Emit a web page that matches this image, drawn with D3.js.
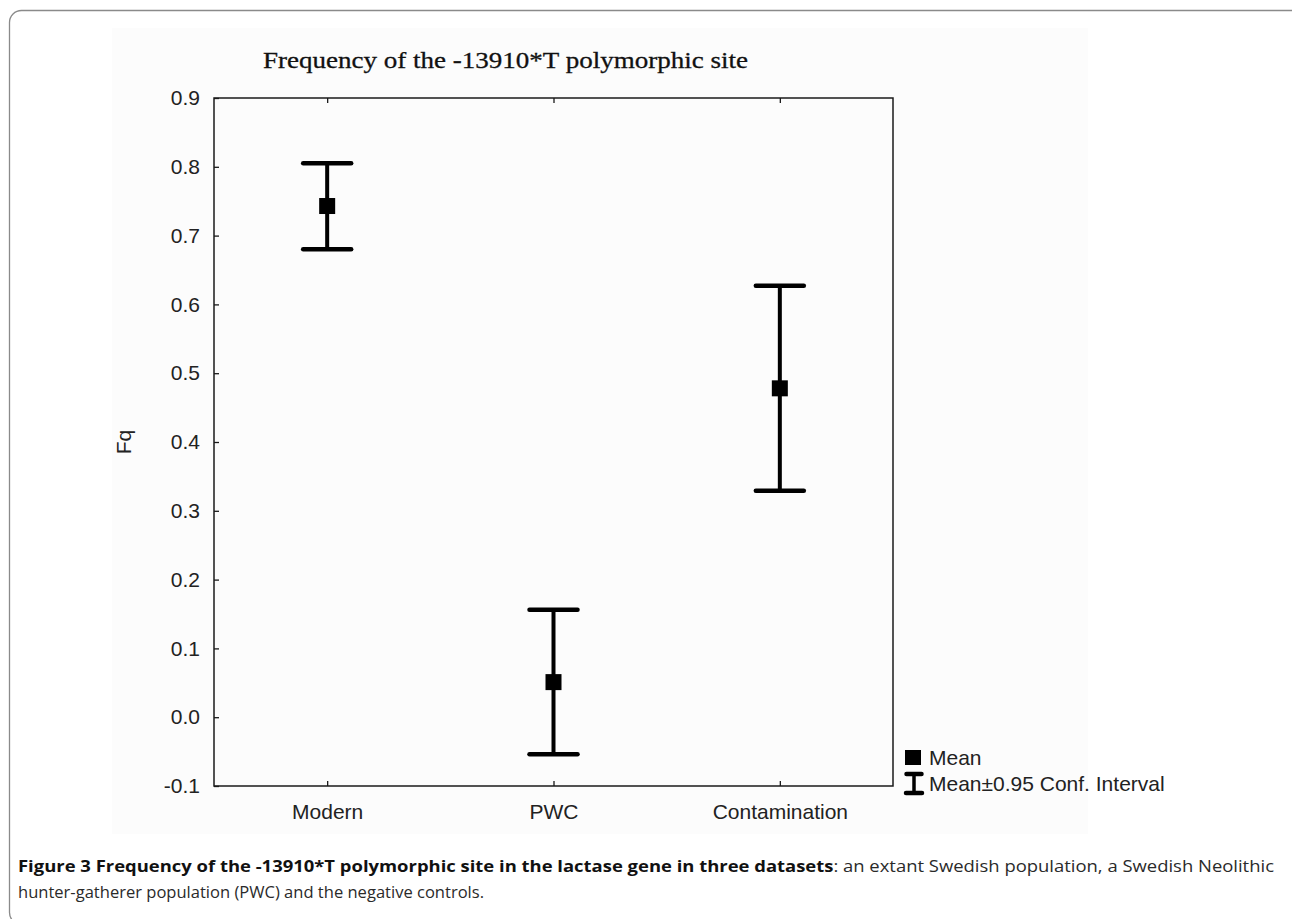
<!DOCTYPE html>
<html>
<head>
<meta charset="utf-8">
<script src="https://cdn.jsdelivr.net/npm/d3@7"></script>
<style>
  html, body { margin: 0; padding: 0; background: #fff; }
  svg { display: block; }
</style>
</head>
<body>
<div id="chart"></div>
<script>
// Frequency of -13910*T: mean with 95% CI per dataset
const categories = ["Modern", "PWC", "Contamination"];
const means = [0.743, 0.051, 0.478];
const lower = [0.680, -0.054, 0.329];
const upper = [0.805, 0.156, 0.627];
const yTicks = [-0.1, 0.0, 0.1, 0.2, 0.3, 0.4, 0.5, 0.6, 0.7, 0.8, 0.9];

const W = 1292, H = 919;
const plot = { left: 214, top: 98, right: 893, bottom: 786 };

const svg = d3.select("#chart").append("svg")
  .attr("width", W).attr("height", H);

// outer rounded figure border (bottom edge falls just below the window)
svg.append("rect")
  .attr("x", 9.5).attr("y", 10.5)
  .attr("width", 1300).attr("height", 914)
  .attr("rx", 12).attr("ry", 12)
  .attr("fill", "none")
  .attr("stroke", "#8a8a8a")
  .attr("stroke-width", 1.3);

// faint chart image background
svg.append("rect")
  .attr("x", 112).attr("y", 28)
  .attr("width", 976).attr("height", 806)
  .attr("fill", "#fcfcfc");

const x = d3.scalePoint().domain(categories)
  .range([plot.left, plot.right]).padding(0.5);
const y = d3.scaleLinear().domain([-0.1, 0.9])
  .range([plot.bottom, plot.top]);

const axisFont = "Liberation Sans, Arial, sans-serif";
const axisSize = 21;
const ink = "#1a1a1a";

// frame
svg.append("rect")
  .attr("x", plot.left).attr("y", plot.top)
  .attr("width", plot.right - plot.left)
  .attr("height", plot.bottom - plot.top)
  .attr("fill", "none").attr("stroke", ink).attr("stroke-width", 1.5);

// y axis: inward ticks
const yAxis = svg.append("g")
  .attr("transform", `translate(${plot.left},0)`)
  .call(d3.axisLeft(y).tickValues(yTicks).tickSize(-5).tickPadding(14)
    .tickFormat(d3.format(".1f")));
yAxis.select(".domain").remove();
yAxis.selectAll(".tick line").attr("stroke", ink).attr("stroke-width", 1.3);
yAxis.selectAll(".tick text")
  .attr("font-family", axisFont).attr("font-size", axisSize).attr("fill", "#222")
  .text(d => d < 0 ? "-" + Math.abs(d).toFixed(1) : d.toFixed(1));

// x axis bottom: inward ticks
const xAxis = svg.append("g")
  .attr("transform", `translate(0,${plot.bottom})`)
  .call(d3.axisBottom(x).tickSize(-5).tickPadding(18));
xAxis.select(".domain").remove();
xAxis.selectAll(".tick line").attr("stroke", ink).attr("stroke-width", 1.3);
xAxis.selectAll(".tick text")
  .attr("font-family", axisFont).attr("font-size", axisSize).attr("fill", "#222");

// x axis top ticks
const xTop = svg.append("g")
  .attr("transform", `translate(0,${plot.top})`)
  .call(d3.axisTop(x).tickSize(-5).tickFormat(""));
xTop.select(".domain").remove();
xTop.selectAll(".tick line").attr("stroke", ink).attr("stroke-width", 1.3);

// y axis label
svg.append("text")
  .attr("transform", `translate(131,${(plot.top + plot.bottom) / 2}) rotate(-90)`)
  .attr("text-anchor", "middle")
  .attr("font-family", axisFont).attr("font-size", axisSize).attr("fill", "#222")
  .text("Fq");

// title
svg.append("text")
  .attr("x", 263).attr("y", 68)
  .attr("font-family", "Liberation Serif, Times New Roman, serif")
  .attr("font-size", 24).attr("fill", "#111")
  .attr("stroke", "#111").attr("stroke-width", 0.3)
  .attr("textLength", 485).attr("lengthAdjust", "spacingAndGlyphs")
  .text("Frequency of the -13910*T polymorphic site");

// error bars
const capW = 48;
const bars = svg.append("g").selectAll("g")
  .data(categories.map((c, i) => ({ c, m: means[i], lo: lower[i], hi: upper[i] })))
  .join("g");

bars.append("line")
  .attr("x1", d => x(d.c)).attr("x2", d => x(d.c))
  .attr("y1", d => y(d.hi)).attr("y2", d => y(d.lo))
  .attr("stroke", "#000").attr("stroke-width", 4);
bars.append("line")
  .attr("x1", d => x(d.c) - capW / 2).attr("x2", d => x(d.c) + capW / 2)
  .attr("y1", d => y(d.hi)).attr("y2", d => y(d.hi))
  .attr("stroke", "#000").attr("stroke-width", 4.5).attr("stroke-linecap", "round");
bars.append("line")
  .attr("x1", d => x(d.c) - capW / 2).attr("x2", d => x(d.c) + capW / 2)
  .attr("y1", d => y(d.lo)).attr("y2", d => y(d.lo))
  .attr("stroke", "#000").attr("stroke-width", 4.5).attr("stroke-linecap", "round");
bars.append("rect")
  .attr("x", d => x(d.c) - 8).attr("y", d => y(d.m) - 8)
  .attr("width", 16).attr("height", 16)
  .attr("fill", "#000");

// legend
const lg = svg.append("g").attr("transform", "translate(905,750)");
lg.append("rect").attr("x", 0).attr("y", 0).attr("width", 16).attr("height", 15).attr("fill", "#000");
lg.append("text").attr("x", 24).attr("y", 15)
  .attr("font-family", axisFont).attr("font-size", axisSize).attr("fill", "#222")
  .text("Mean");
lg.append("path")
  .attr("d", "M1.5,24 H16.5 M1,43 H17")
  .attr("stroke", "#000").attr("stroke-width", 4.5).attr("stroke-linecap", "round")
  .attr("fill", "none");
lg.append("path")
  .attr("d", "M9,24 V43")
  .attr("stroke", "#000").attr("stroke-width", 3.5)
  .attr("fill", "none");
lg.append("text").attr("x", 24).attr("y", 41)
  .attr("font-family", axisFont).attr("font-size", axisSize).attr("fill", "#222")
  .text("Mean\u00b10.95 Conf. Interval");

// caption
const capFont = "Open Sans, Noto Sans, sans-serif";
const cap1 = svg.append("text")
  .attr("x", 18).attr("y", 872)
  .attr("font-family", capFont).attr("font-size", 16.8).attr("fill", "#2a2a2a")
  .attr("textLength", 1256).attr("lengthAdjust", "spacingAndGlyphs");
cap1.append("tspan").attr("font-weight", "bold").attr("fill", "#111")
  .text("Figure 3 Frequency of the -13910*T polymorphic site in the lactase gene in three datasets");
cap1.append("tspan")
  .text(": an extant Swedish population, a Swedish Neolithic");
svg.append("text")
  .attr("x", 18).attr("y", 898)
  .attr("font-family", capFont).attr("font-size", 16.8).attr("fill", "#2a2a2a")
  .attr("textLength", 466).attr("lengthAdjust", "spacingAndGlyphs")
  .text("hunter-gatherer population (PWC) and the negative controls.");
</script>
</body>
</html>
